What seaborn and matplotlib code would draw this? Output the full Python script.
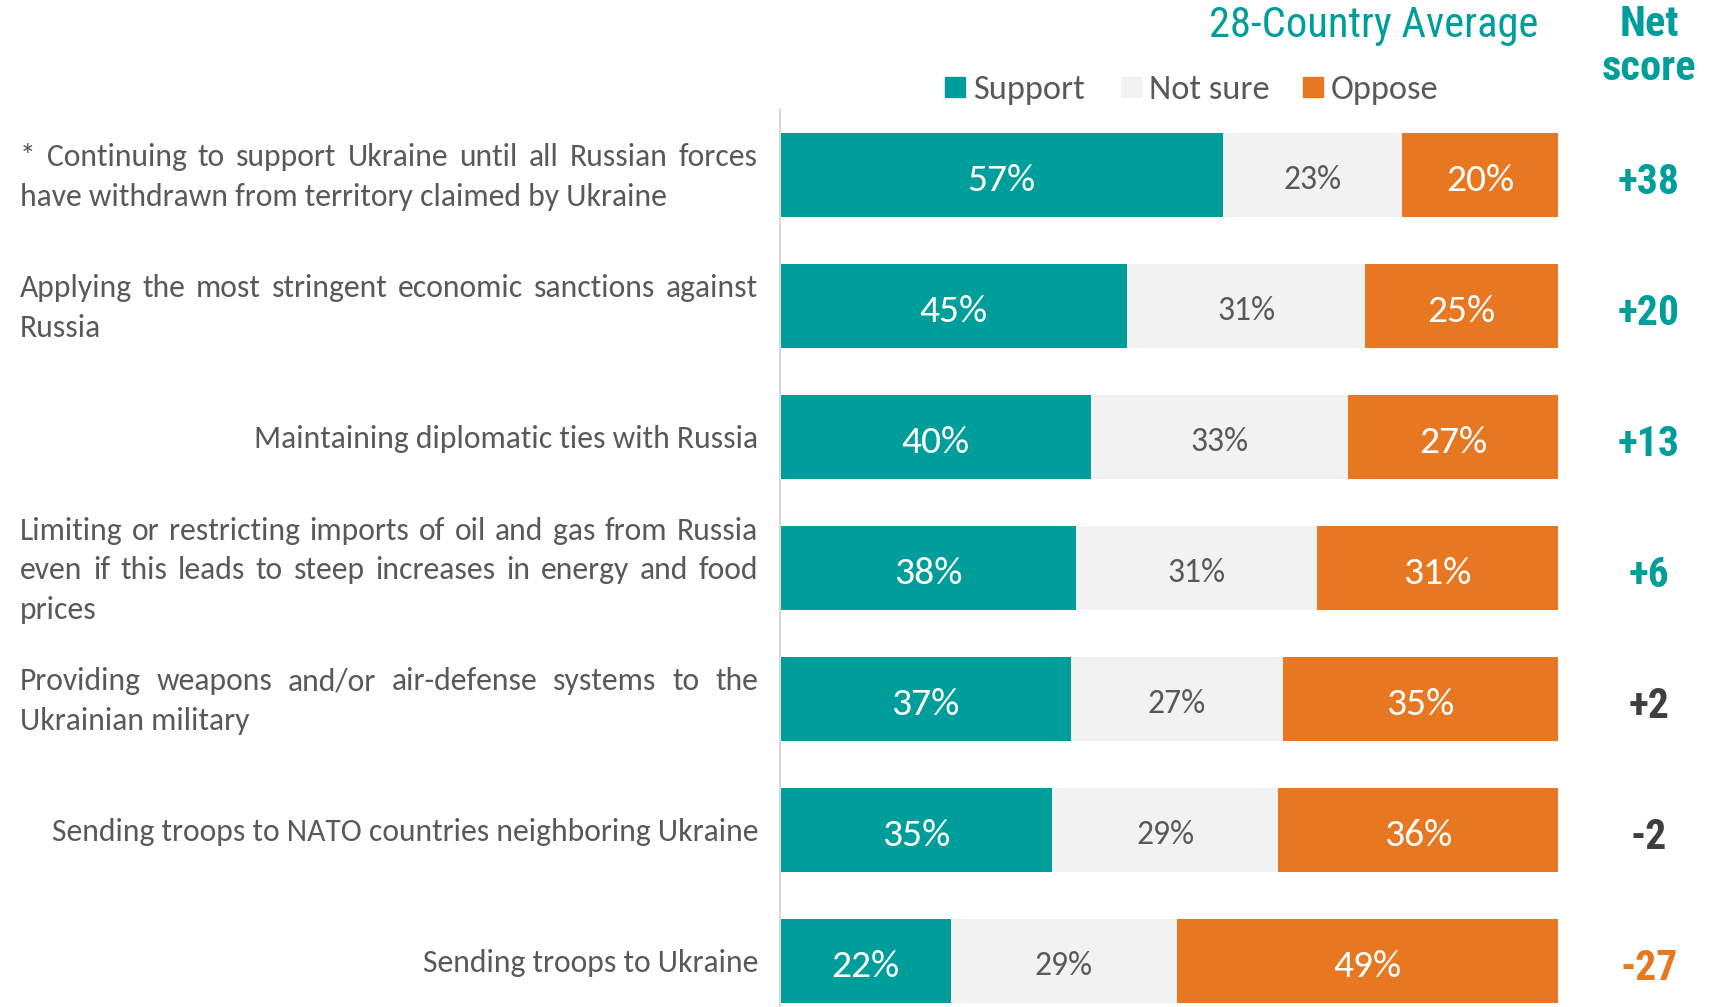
import matplotlib
matplotlib.use("Agg")
import matplotlib.pyplot as plt
from matplotlib import font_manager
from matplotlib.font_manager import FontProperties
from matplotlib.ft2font import FT2Font
from matplotlib.patches import Rectangle
import pandas as pd
import seaborn as sns

# chart data
items = [
    "* Continuing to support Ukraine until all Russian forces\nhave withdrawn from territory claimed by Ukraine",
    "Applying the most stringent economic sanctions against\nRussia",
    "Maintaining diplomatic ties with Russia",
    "Limiting or restricting imports of oil and gas from Russia\neven if this leads to steep increases in energy and food\nprices",
    "Providing weapons and/or air-defense systems to the\nUkrainian military",
    "Sending troops to NATO countries neighboring Ukraine",
    "Sending troops to Ukraine",
]
support = [57, 45, 40, 38, 37, 35, 22]
not_sure = [23, 31, 33, 31, 27, 29, 29]
oppose = [20, 25, 27, 31, 35, 36, 49]
net_score = ["+38", "+20", "+13", "+6", "+2", "-2", "-27"]
legend_labels = ["Support", "Not sure", "Oppose"]

TEAL = "#009E9A"
GREY = "#F2F2F2"
ORANGE = "#E87722"
TXT = "#595959"
DARK = "#3F3F3F"

W, H = 1723, 1007

sns.set_style("white")
avail = {f.name for f in font_manager.fontManager.ttflist}


def pick(*names):
    for n in names:
        if n in avail:
            return n
    return "DejaVu Sans"


LABEL_FONT = pick("Carlito", "Lato", "Open Sans")
NARROW = pick("Roboto Condensed", "Liberation Sans Narrow", "Liberation Sans")
plt.rcParams["font.family"] = [LABEL_FONT, "DejaVu Sans"]

df = pd.DataFrame({"key": [str(i) for i in range(len(items))],
                   "support": support, "not_sure": not_sure, "oppose": oppose})
tot = df.support + df.not_sure + df.oppose
df["c1"] = df.support / tot * 100
df["c2"] = (df.support + df.not_sure) / tot * 100
df["c3"] = 100.0

fig = plt.figure(figsize=(W / 100, H / 100), dpi=100)
renderer = fig.canvas.get_renderer()
ax = fig.add_axes([780 / W, 0, 778 / W, (H - 110) / H])

for col, c in [("c3", ORANGE), ("c2", GREY), ("c1", TEAL)]:
    sns.barplot(data=df, y="key", x=col, color=c, saturation=1, width=0.64,
                orient="h", edgecolor="none", linewidth=0, ax=ax)

ax.set_xlim(0, 100)
ax.set_ylim(6.351, -0.496)
ax.set_xticks([])
ax.set_yticks([])
ax.set_xlabel("")
ax.set_ylabel("")
for s in ["top", "right", "bottom"]:
    ax.spines[s].set_visible(False)
ax.spines["left"].set_color("#D9D9D9")
ax.spines["left"].set_linewidth(1.5)


def text_w(s, size, **kw):
    t = fig.text(0, 0, s, fontsize=size, **kw)
    w = t.get_window_extent(renderer).width
    t.remove()
    return w


def fit(s, target, **kw):
    return 20 * target / text_w(s, 20, **kw)


def cap_px(size, family, weight="normal"):
    try:
        f = FT2Font(font_manager.findfont(FontProperties(family=family, weight=weight)))
        r = f.get_sfnt_table("OS/2")["sCapHeight"] / f.units_per_EM
        if r <= 0:
            r = 0.7
    except Exception:
        r = 0.7
    return r * size * 100 / 72


def put(x, yc, s, size, family, weight="normal", **kw):
    # place text so that its cap height is centred on yc (pixels from top)
    yb = yc + cap_px(size, family, weight) / 2
    fig.text(x / W, 1 - yb / H, s, fontsize=size, family=family, fontweight=weight,
             va="baseline", **kw)


# segment labels
BIG = fit("57%", 68, family=LABEL_FONT)
SMALL = fit("23%", 58, family=LABEL_FONT)
x0, xw = 780, 778
for i, r in df.iterrows():
    yc = 175 + 131 * i + 2.5
    put(x0 + xw * r.c1 / 200, yc, f"{r.support}%", BIG, LABEL_FONT, color="white", ha="center")
    put(x0 + xw * (r.c1 + r.c2) / 200, yc, f"{r.not_sure}%", SMALL, LABEL_FONT, color=TXT, ha="center")
    put(x0 + xw * (r.c2 + 100) / 200, yc, f"{r.oppose}%", BIG, LABEL_FONT, color="white", ha="center")

# category labels (justified like the original)
LSIZE = fit("Maintaining diplomatic ties with Russia", 504)
X0, X1 = 20, 758
LINE = 39.5

for i, lab in enumerate(items):
    yc = 175 + 131 * i
    lines = lab.split("\n")
    n = len(lines)
    for k, line in enumerate(lines):
        ly = yc + (k - (n - 1) / 2) * LINE
        if n == 1:
            put(X1, ly, line, LSIZE, LABEL_FONT, color=TXT, ha="right")
        elif k == n - 1:
            put(X0, ly, line, LSIZE, LABEL_FONT, color=TXT, ha="left")
        else:
            words = line.split()
            ws = [text_w(w, LSIZE, family=LABEL_FONT) for w in words]
            gap = (X1 - X0 - sum(ws)) / (len(words) - 1)
            x = X0
            for w, wd in zip(words, ws):
                put(x, ly, w, LSIZE, LABEL_FONT, color=TXT, ha="left")
                x += wd + gap

# net score column
NSIZE = fit("+38", 62, family=NARROW, fontweight="bold")
for i, s in enumerate(net_score):
    v = int(s)
    c = TEAL if v >= 5 else (ORANGE if v <= -5 else DARK)
    put(1649, 175 + 131 * i + 4, s, NSIZE, NARROW, "bold", color=c, ha="center")

HSIZE = fit("28-Country Average", 329, family=NARROW)
put(1374, 22, "28-Country Average", HSIZE, NARROW, color=TEAL, ha="center")
SSIZE = fit("score", 94, family=NARROW, fontweight="bold")
put(1649, 21, "Net", SSIZE, NARROW, "bold", color=TEAL, ha="center")
put(1649, 65, "score", SSIZE, NARROW, "bold", color=TEAL, ha="center")

# legend
GSIZE = fit("Support", 112)
for lab, c, x in zip(legend_labels, [TEAL, GREY, ORANGE], [945, 1121, 1303]):
    fig.patches.append(Rectangle((x / W, 1 - 97 / H), 20 / W, 20 / H, color=c,
                                 transform=fig.transFigure, figure=fig))
    put(x + 28, 87, lab, GSIZE, LABEL_FONT, color=TXT, ha="left")

fig.savefig("out.png", dpi=100)
